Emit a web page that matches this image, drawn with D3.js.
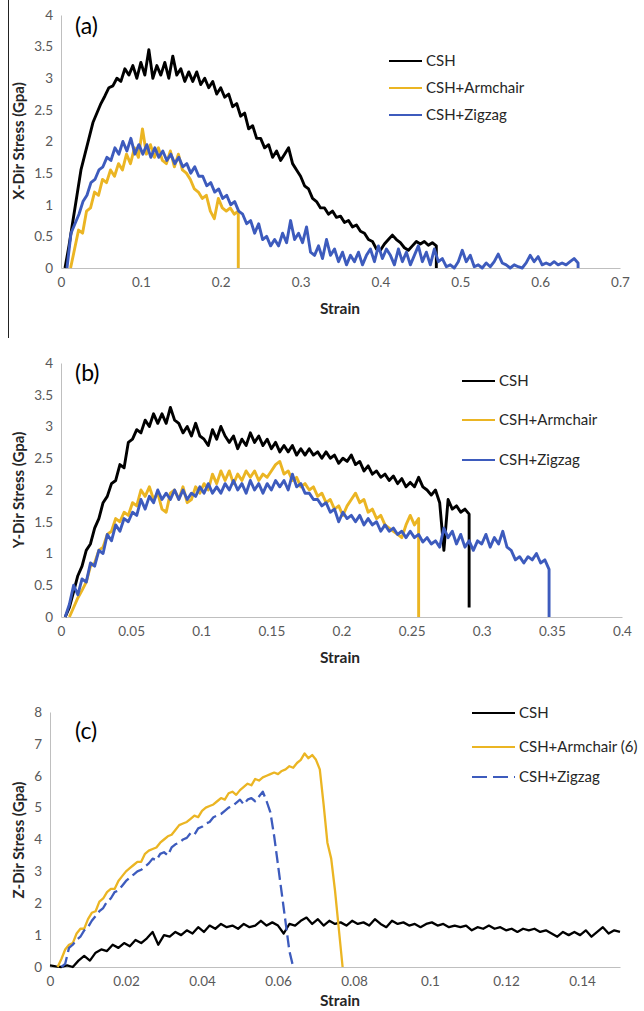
<!DOCTYPE html>
<html>
<head>
<meta charset="utf-8">
<script src="https://cdn.jsdelivr.net/npm/d3@7"></script>
<style>
body { margin: 0; background: #fff; }
text { font-family: Lato, "Open Sans", sans-serif; }
</style>
</head>
<body>
<div id="chart"></div>
<script>
// legend names
var namesAB = ["CSH", "CSH+Armchair", "CSH+Zigzag"];
var namesC = ["CSH", "CSH+Armchair (6)", "CSH+Zigzag"];

// tick labels
var xTicksA = [0, 0.1, 0.2, 0.3, 0.4, 0.5, 0.6, 0.7];
var xTicksB = [0, 0.05, 0.1, 0.15, 0.2, 0.25, 0.3, 0.35, 0.4];
var xTicksC = [0, 0.02, 0.04, 0.06, 0.08, 0.1, 0.12, 0.14];
var yTicksAB = [0, 0.5, 1, 1.5, 2, 2.5, 3, 3.5, 4];
var yTicksC = [0, 1, 2, 3, 4, 5, 6, 7, 8];

// (a) X direction, strain step 0.005
var aStep = 0.005;
var aCSHStart = 0.005, aCSHDrop = 0;
var aCSH = [0.00, 0.35, 0.75, 1.15, 1.55, 1.80, 2.05, 2.30, 2.45, 2.60, 2.72, 2.85, 2.88, 3.00, 2.95, 3.15,
  3.05, 3.20, 3.00, 3.25, 3.05, 3.45, 3.00, 3.20, 3.05, 3.25, 3.00, 3.35, 3.05, 3.15, 2.95, 3.10,
  2.95, 3.10, 2.90, 3.00, 2.85, 2.95, 2.75, 2.85, 2.70, 2.75, 2.55, 2.60, 2.40, 2.45, 2.20, 2.25,
  2.05, 2.05, 1.90, 1.95, 1.75, 1.85, 1.70, 1.80, 1.90, 1.65, 1.55, 1.45, 1.30, 1.25, 1.10, 1.05,
  0.95, 0.95, 0.85, 0.90, 0.80, 0.82, 0.72, 0.75, 0.65, 0.68, 0.58, 0.55, 0.45, 0.42, 0.30, 0.28,
  0.38, 0.45, 0.52, 0.45, 0.40, 0.32, 0.28, 0.35, 0.42, 0.38, 0.42, 0.36, 0.40, 0.35];
var aArmStart = 0.012, aArmDrop = 0;
var aArm = [0.00, 0.30, 0.60, 0.55, 0.90, 0.95, 1.20, 1.15, 1.40, 1.35, 1.55, 1.45, 1.65, 1.55, 1.80, 1.65,
  1.90, 1.75, 2.20, 1.80, 1.95, 1.75, 1.90, 1.70, 1.65, 1.85, 1.60, 1.80, 1.55, 1.50, 1.40, 1.25,
  1.20, 1.10, 1.15, 0.90, 0.78, 1.10, 0.95, 0.90, 0.95, 0.85, 0.90];
var aZigStart = 0.0075, aZigDrop = 0;
var aZig = [0.00, 0.55, 0.70, 0.85, 1.05, 1.15, 1.35, 1.40, 1.55, 1.60, 1.75, 1.70, 1.90, 1.80, 2.00, 1.85,
  2.05, 1.80, 1.95, 1.80, 1.95, 1.75, 1.90, 1.75, 1.85, 1.70, 1.80, 1.65, 1.75, 1.60, 1.65, 1.50,
  1.60, 1.45, 1.45, 1.30, 1.35, 1.20, 1.25, 1.10, 1.15, 1.00, 1.05, 0.90, 0.85, 0.70, 0.75, 0.55,
  0.70, 0.45, 0.50, 0.35, 0.45, 0.35, 0.55, 0.40, 0.75, 0.45, 0.55, 0.40, 0.65, 0.25, 0.20, 0.35,
  0.15, 0.45, 0.20, 0.30, 0.10, 0.25, 0.05, 0.20, 0.10, 0.25, 0.05, 0.20, 0.30, 0.10, 0.35, 0.15,
  0.30, 0.20, 0.05, 0.30, 0.10, 0.25, 0.05, 0.20, 0.35, 0.10, 0.25, 0.05, 0.30, 0.10, 0.15, 0.02,
  0.05, 0.00, 0.10, 0.28, 0.10, 0.20, 0.02, 0.05, 0.00, 0.08, 0.02, 0.10, 0.22, 0.08, 0.05, 0.00,
  0.05, 0.02, 0.00, 0.08, 0.20, 0.10, 0.18, 0.05, 0.08, 0.05, 0.10, 0.05, 0.08, 0.05, 0.10, 0.15, 0.08];

// (b) Y direction, strain step 0.003
var bStep = 0.003;
var bCSHStart = 0.003, bCSHDrop = 0.15;
var bCSH = [0.00, 0.15, 0.40, 0.65, 0.80, 1.05, 1.15, 1.40, 1.55, 1.80, 1.90, 2.10, 2.15, 2.40, 2.35, 2.75,
  2.80, 2.95, 2.90, 3.10, 3.00, 3.20, 3.05, 3.20, 3.05, 3.30, 3.10, 3.05, 2.90, 3.00, 2.85, 3.05,
  2.85, 2.80, 2.70, 2.95, 2.80, 3.00, 2.85, 2.75, 2.85, 2.65, 2.80, 2.70, 2.90, 2.75, 2.85, 2.70,
  2.80, 2.65, 2.75, 2.60, 2.70, 2.60, 2.70, 2.55, 2.65, 2.55, 2.65, 2.55, 2.60, 2.50, 2.60, 2.50,
  2.55, 2.42, 2.50, 2.45, 2.55, 2.40, 2.45, 2.30, 2.38, 2.25, 2.30, 2.20, 2.25, 2.15, 2.22, 2.10,
  2.18, 2.05, 2.12, 2.05, 2.20, 2.05, 2.00, 1.92, 2.00, 1.80, 1.05, 1.85, 1.70, 1.75, 1.65, 1.70, 1.62];
var bArmStart = 0.006, bArmDrop = 0;
var bArm = [0.00, 0.15, 0.30, 0.42, 0.55, 0.80, 0.85, 1.05, 1.10, 1.30, 1.35, 1.55, 1.50, 1.65, 1.60, 1.80,
  1.75, 2.00, 1.90, 2.05, 1.85, 1.95, 1.70, 1.65, 1.95, 2.00, 1.85, 2.05, 1.80, 1.85, 2.05, 1.95,
  2.10, 2.00, 2.25, 2.10, 2.30, 2.15, 2.30, 2.10, 2.25, 2.15, 2.30, 2.20, 2.30, 2.15, 2.25, 2.20,
  2.30, 2.40, 2.45, 2.25, 2.30, 2.15, 2.20, 2.05, 2.10, 2.00, 2.05, 1.90, 1.95, 1.80, 1.85, 1.70,
  1.75, 1.60, 1.75, 1.85, 1.95, 1.80, 1.85, 1.65, 1.70, 1.55, 1.60, 1.45, 1.40, 1.35, 1.30, 1.25,
  1.45, 1.60, 1.45, 1.55];
var bZigStart = 0.003, bZigDrop = 0;
var bZig = [0.00, 0.20, 0.50, 0.35, 0.60, 0.55, 0.85, 0.80, 1.05, 1.00, 1.30, 1.20, 1.45, 1.35, 1.55, 1.50,
  1.65, 1.60, 1.85, 1.70, 1.90, 1.80, 2.00, 1.85, 1.95, 1.85, 2.00, 1.85, 2.00, 1.85, 1.95, 1.90,
  2.05, 1.95, 2.10, 1.95, 2.05, 1.95, 2.10, 2.00, 2.15, 2.00, 2.10, 1.95, 2.15, 2.00, 2.10, 1.95,
  2.10, 2.00, 2.15, 2.05, 2.15, 2.00, 2.25, 2.05, 2.10, 1.95, 1.95, 1.85, 1.85, 1.75, 1.80, 1.65,
  1.70, 1.50, 1.65, 1.55, 1.60, 1.50, 1.60, 1.45, 1.55, 1.45, 1.50, 1.35, 1.45, 1.35, 1.40, 1.30,
  1.35, 1.25, 1.35, 1.25, 1.30, 1.18, 1.25, 1.15, 1.20, 1.10, 1.40, 1.25, 1.35, 1.15, 1.30, 1.10,
  1.20, 1.05, 1.20, 1.15, 1.30, 1.10, 1.25, 1.15, 1.35, 1.10, 1.05, 0.90, 0.95, 0.85, 0.95, 0.90,
  1.00, 0.85, 0.90, 0.75];

// (c) Z direction
var cCSHStart = 0, cCSHStep = 0.0015;
var cCSH = [0.05, 0.02, 0.00, 0.05, 0.00, 0.20, 0.35, 0.20, 0.45, 0.55, 0.50, 0.70, 0.60, 0.75, 0.65, 0.85,
  0.75, 0.90, 1.10, 0.70, 1.00, 0.95, 1.10, 1.00, 1.15, 1.05, 1.25, 1.10, 1.30, 1.20, 1.35, 1.25,
  1.30, 1.20, 1.35, 1.25, 1.30, 1.45, 1.30, 1.40, 1.30, 1.05, 1.35, 1.30, 1.45, 1.55, 1.35, 1.50,
  1.30, 1.45, 1.35, 1.40, 1.30, 1.45, 1.35, 1.40, 1.30, 1.50, 1.35, 1.25, 1.45, 1.35, 1.40, 1.30,
  1.35, 1.25, 1.35, 1.40, 1.30, 1.35, 1.25, 1.30, 1.25, 1.30, 1.15, 1.25, 1.20, 1.30, 1.20, 1.25,
  1.15, 1.20, 1.10, 1.20, 1.15, 1.20, 1.10, 1.15, 1.05, 0.95, 1.10, 1.00, 1.10, 1.00, 1.15, 0.95,
  1.10, 1.25, 1.05, 1.15, 1.10];
var cArmStart = 0.002, cArmStep = 0.001;
var cArm = [0.00, 0.25, 0.55, 0.70, 0.75, 1.05, 1.20, 1.20, 1.50, 1.70, 1.75, 2.05, 2.15, 2.35, 2.45, 2.45,
  2.70, 2.85, 3.00, 3.10, 3.20, 3.30, 3.30, 3.55, 3.65, 3.70, 3.75, 3.90, 4.00, 4.10, 4.15, 4.30,
  4.45, 4.50, 4.55, 4.65, 4.75, 4.70, 4.90, 5.00, 5.05, 5.10, 5.20, 5.30, 5.25, 5.45, 5.50, 5.40,
  5.55, 5.65, 5.75, 5.70, 5.90, 5.85, 5.95, 6.00, 6.05, 6.10, 6.05, 6.15, 6.20, 6.30, 6.25, 6.40,
  6.50, 6.70, 6.55, 6.65, 6.50, 6.20, 5.10, 3.90, 3.40, 2.40, 1.20, 0.00];
var cZigStart = 0.003, cZigStep = 0.001;
var cZig = [0.00, 0.10, 0.60, 0.70, 0.85, 0.95, 1.15, 1.25, 1.45, 1.60, 1.75, 1.85, 2.05, 2.15, 2.35, 2.40,
  2.55, 2.70, 2.80, 2.90, 3.00, 3.05, 3.15, 3.25, 3.40, 3.35, 3.55, 3.60, 3.50, 3.75, 3.85, 3.90,
  4.00, 4.05, 4.20, 4.15, 4.35, 4.40, 4.50, 4.55, 4.70, 4.75, 4.80, 4.90, 5.00, 5.05, 5.15, 5.25,
  5.10, 5.25, 5.30, 5.20, 5.35, 5.50, 5.20, 4.85, 4.10, 3.20, 2.30, 1.40, 0.50, 0.00];

var colors = ["#000000", "#ebb523", "#3d5bbd"];

// turn a stress list on a strain grid into points, with a vertical drop at fracture
function toPoints(start, step, values, dropTo) {
  var pts = values.map(function(v, i) { return [start + i * step, v]; });
  if (dropTo !== null) pts.push([pts[pts.length - 1][0], dropTo]);
  return pts;
}

var panels = [
  { left: 61, right: 620, top: 15, bottom: 268, xMax: 0.7, yMax: 4,
    xTicks: xTicksA, yTicks: yTicksAB, tag: "(a)", tagX: 75, tagY: 34,
    yTitle: "X-Dir Stress (Gpa)", yTitleY: 141, strainY: 314, width: 2.9,
    names: namesAB, legX: 389, legLen: 33, legY: [61, 88, 115],
    series: [toPoints(aCSHStart, aStep, aCSH, aCSHDrop),
             toPoints(aArmStart, aStep, aArm, aArmDrop),
             toPoints(aZigStart, aStep, aZig, aZigDrop)] },
  { left: 61, right: 622, top: 363, bottom: 617, xMax: 0.4, yMax: 4,
    xTicks: xTicksB, yTicks: yTicksAB, tag: "(b)", tagX: 75, tagY: 381,
    yTitle: "Y-Dir Stress (Gpa)", yTitleY: 490, strainY: 663, width: 2.9,
    names: namesAB, legX: 462, legLen: 33, legY: [381, 420, 460],
    series: [toPoints(bCSHStart, bStep, bCSH, bCSHDrop),
             toPoints(bArmStart, bStep, bArm, bArmDrop),
             toPoints(bZigStart, bStep, bZig, bZigDrop)] },
  { left: 50, right: 620, top: 712, bottom: 967, xMax: 0.15, yMax: 8,
    xTicks: xTicksC, yTicks: yTicksC, tag: "(c)", tagX: 75, tagY: 739,
    yTitle: "Z-Dir Stress (Gpa)", yTitleY: 840, strainY: 1006, width: 2.3,
    names: namesC, legX: 472, legLen: 43, legY: [713, 747, 777], dashed: 2,
    series: [toPoints(cCSHStart, cCSHStep, cCSH, null),
             toPoints(cArmStart, cArmStep, cArm, null),
             toPoints(cZigStart, cZigStep, cZig, null)] }
];

var svg = d3.select("#chart").append("svg")
  .attr("width", 644)
  .attr("height", 1011);

// thin frame line at the left of the top panel
svg.append("line")
  .attr("x1", 8.5).attr("x2", 8.5).attr("y1", 0).attr("y2", 338)
  .attr("stroke", "#222").attr("stroke-width", 1);

panels.forEach(function(p) {
  var x = d3.scaleLinear().domain([0, p.xMax]).range([p.left, p.right]);
  var y = d3.scaleLinear().domain([0, p.yMax]).range([p.bottom, p.top]);
  var g = svg.append("g");

  // axes
  var xAxis = g.append("g")
    .attr("transform", "translate(0," + p.bottom + ")")
    .call(d3.axisBottom(x).tickValues(p.xTicks).tickSize(0).tickSizeOuter(0).tickPadding(9)
      .tickFormat(function(d) { return String(d); }));
  var yAxis = g.append("g")
    .attr("transform", "translate(" + p.left + ",0)")
    .call(d3.axisLeft(y).tickValues(p.yTicks).tickSize(0).tickSizeOuter(0).tickPadding(8)
      .tickFormat(function(d) { return String(d); }));
  [xAxis, yAxis].forEach(function(a) {
    a.select(".domain").attr("stroke", "#bfbfbf").attr("stroke-width", 1);
    a.selectAll("text").attr("fill", "#595959").style("font-size", "13.5px")
      .style("font-family", "Lato, 'Open Sans', sans-serif");
  });

  // lines
  var line = d3.line()
    .x(function(d) { return x(d[0]); })
    .y(function(d) { return y(d[1]); });

  p.series.forEach(function(s, i) {
    g.append("path")
      .datum(s)
      .attr("d", line)
      .attr("fill", "none")
      .attr("stroke", colors[i])
      .attr("stroke-width", p.width)
      .attr("stroke-linejoin", "round")
      .attr("stroke-dasharray", p.dashed === i ? "12,5" : null);
  });

  // panel tag
  g.append("text")
    .attr("x", p.tagX).attr("y", p.tagY)
    .style("font-size", "23px").attr("fill", "#000")
    .text(p.tag);

  // axis titles
  g.append("text")
    .attr("transform", "translate(24," + p.yTitleY + ") rotate(-90)")
    .attr("text-anchor", "middle")
    .style("font-size", "15px").style("font-weight", "bold").attr("fill", "#262626")
    .text(p.yTitle);
  g.append("text")
    .attr("x", 340).attr("y", p.strainY)
    .attr("text-anchor", "middle")
    .style("font-size", "15.5px").style("font-weight", "bold").attr("fill", "#262626")
    .text("Strain");

  // legend
  p.names.forEach(function(n, i) {
    g.append("line")
      .attr("x1", p.legX).attr("x2", p.legX + p.legLen)
      .attr("y1", p.legY[i]).attr("y2", p.legY[i])
      .attr("stroke", colors[i]).attr("stroke-width", 2)
      .attr("stroke-dasharray", p.dashed === i ? "15,6" : null);
    g.append("text")
      .attr("x", p.legX + p.legLen + 4).attr("y", p.legY[i])
      .attr("dy", "0.35em")
      .style("font-size", "15px").attr("fill", "#262626")
      .text(n);
  });
});
</script>
</body>
</html>
